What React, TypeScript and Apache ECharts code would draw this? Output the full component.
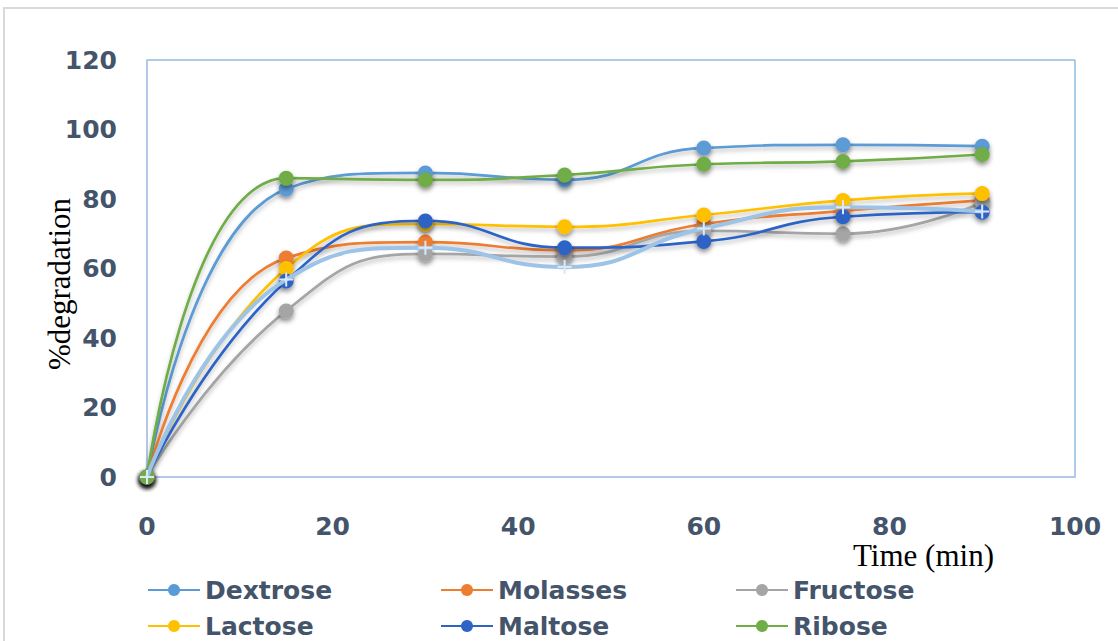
import React, { useEffect, useRef } from "react";
import * as echarts from "echarts";

const times = [0, 15, 30, 45, 60, 75, 90];
const dextrose = [0, 82.9, 87.5, 85.5, 94.7, 95.6, 95.2];
const molasses = [0, 63, 67.6, 65.2, 72.8, 76.6, 79.6];
const fructose = [0, 47.8, 64.2, 63.4, 70.8, 70.0, 79.0];
const lactose = [0, 60, 72.8, 72, 75.4, 79.6, 81.6];
const maltose = [0, 56.4, 73.7, 66, 67.8, 74.9, 76.2];
const ribose = [0, 86, 85.5, 86.9, 90, 90.8, 92.8];
const trend = [0, 56.8, 66, 60.4, 71.5, 77.6, 76.4];

const names = ["Dextrose", "Molasses", "Fructose", "Lactose", "Maltose", "Ribose"];
const colors = ["#5B9BD5", "#ED7D31", "#A5A5A5", "#FFC000", "#2F64C6", "#70AD47"];
const values = [dextrose, molasses, fructose, lactose, maltose, ribose];

const xTicks = { min: 0, max: 100, interval: 20 };
const yTicks = { min: 0, max: 120, interval: 20 };

const labelColor = "#44546A";
const plusPath =
  "path://M-1,-7 L1,-7 L1,-1 L7,-1 L7,1 L1,1 L1,7 L-1,7 L-1,1 L-7,1 L-7,-1 L-1,-1 Z";

export default function App() {
  const ref = useRef<HTMLDivElement>(null);
  useEffect(() => {
    if (!ref.current) return;
    const chart = echarts.init(ref.current, undefined, { renderer: "svg" });
    const pair = (arr: number[]) => times.map((t, i) => [t, arr[i]]);
    const series: any[] = names.map((n, i) => ({
      name: n,
      type: "line",
      smooth: 0.5,
      data: pair(values[i]),
      symbol: "circle",
      symbolSize: 15,
      z: 3,
      itemStyle: {
        color: colors[i],
        shadowBlur: 5,
        shadowColor: "rgba(0,0,0,0.45)",
        shadowOffsetY: 3,
      },
      lineStyle: {
        color: colors[i],
        width: 2.7,
        shadowBlur: 4,
        shadowColor: "rgba(0,0,0,0.25)",
        shadowOffsetY: 3,
      },
    }));
    series.push({
      name: "trend",
      type: "line",
      smooth: 0.5,
      data: pair(trend),
      symbol: plusPath,
      symbolSize: 14,
      z: 4,
      itemStyle: { color: "#DCE8F6" },
      lineStyle: { color: "#9DC3E6", width: 4 },
    });
    const cols = [147, 440, 735];
    const rows = [576, 612];
    const legends = names.map((n, i) => ({
      data: [n],
      left: cols[i % 3],
      top: rows[Math.floor(i / 3)],
      padding: 0,
      itemWidth: 52,
      itemHeight: 15,
      itemGap: 0,
      textStyle: {
        color: labelColor,
        fontFamily: "DejaVu Sans",
        fontWeight: "bold",
        fontSize: 25,
        lineHeight: 28,
      },
    }));
    chart.setOption({
      animation: false,
      backgroundColor: "#ffffff",
      grid: {
        left: 147,
        top: 60,
        right: 43,
        bottom: 164,
        show: true,
        borderColor: "#5B9BD5",
        borderWidth: 1,
        containLabel: false,
      },
      legend: legends,
      xAxis: {
        type: "value",
        ...xTicks,
        axisLine: { show: true, lineStyle: { color: "#B4C7E7", width: 2 } },
        axisTick: { show: false },
        splitLine: { show: false },
        axisLabel: {
          margin: 39,
          lineHeight: 20,
          color: labelColor,
          fontFamily: "DejaVu Sans",
          fontWeight: "bold",
          fontSize: 25,
        },
      },
      yAxis: {
        type: "value",
        ...yTicks,
        axisLine: { show: true, lineStyle: { color: "#B4C7E7", width: 2 } },
        axisTick: { show: false },
        splitLine: { show: false },
        axisLabel: {
          margin: 30,
          color: labelColor,
          fontFamily: "DejaVu Sans",
          fontWeight: "bold",
          fontSize: 25,
        },
      },
      graphic: [
        {
          type: "polyline",
          shape: { points: [[4, 641], [4, 8], [1118, 8]] },
          style: { stroke: "#D9D9D9", lineWidth: 2, fill: null },
          z: 0,
        },
        {
          type: "text",
          left: 853,
          top: 540,
          style: {
            text: "Time (min)",
            fontFamily: "Liberation Serif",
            fontSize: 31,
            lineHeight: 31,
            fill: "#000",
          },
        },
        {
          type: "text",
          x: 59,
          y: 284,
          rotation: Math.PI / 2,
          style: {
            text: "%degradation",
            fontFamily: "Liberation Serif",
            fontSize: 31,
            fill: "#000",
            align: "center",
            verticalAlign: "middle",
          },
        },
      ],
      series,
    });
    return () => chart.dispose();
  }, []);
  return (
    <div
      ref={ref}
      style={{ position: "fixed", left: 0, top: 0, width: 1118, height: 641 }}
    />
  );
}
